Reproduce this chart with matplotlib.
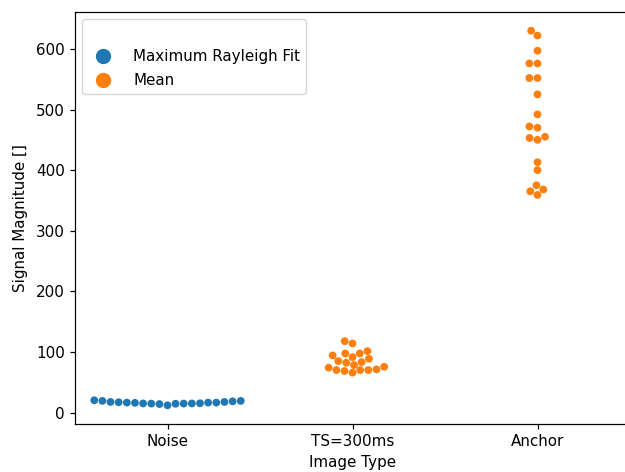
import matplotlib
matplotlib.use("Agg")
import matplotlib.pyplot as plt
import seaborn as sns
import pandas as pd
from matplotlib.lines import Line2D

categories = ["Noise", "TS=300ms", "Anchor"]
hue_labels = ["Maximum Rayleigh Fit", "Mean"]

noise_vals = [19.2, 19.2, 17.5, 16.4, 16.4, 15.3, 15.0, 14.5, 14.0, 12.0,
              14.8, 14.8, 15.0, 16.0, 16.4, 17.0, 17.5, 18.5, 20.3]
ts_vals = [117.8, 114.0, 101.4, 97.5, 97.5, 94.2, 91.5, 88.8, 84.9, 83.3,
           82.2, 78.4, 75.6, 74.0, 71.2, 70.1, 70.1, 70.1, 68.5, 65.8]
anchor_vals = [630, 622, 597, 576, 576, 552, 552, 525, 492, 472,
               470, 455, 453, 450, 413, 400, 375, 368, 365, 359]

rows = []
for v in noise_vals:
    rows.append(("Noise", v, hue_labels[0]))
for v in ts_vals:
    rows.append(("TS=300ms", v, hue_labels[1]))
for v in anchor_vals:
    rows.append(("Anchor", v, hue_labels[1]))
df = pd.DataFrame(rows, columns=["Image Type", "Signal Magnitude []", "Statistic"])

colors = ["#1f77b4", "#ff7f0e"]

s = 1.09
plt.rcParams.update({
    "font.size": 10 * s,
    "axes.linewidth": 0.8 * s,
    "xtick.major.size": 3.5 * s,
    "ytick.major.size": 3.5 * s,
    "xtick.major.width": 0.8 * s,
    "ytick.major.width": 0.8 * s,
})

fig = plt.figure(figsize=(6.25, 4.72), dpi=100)
ax = fig.add_axes([75/625, 48/472, 555/625, 412/472])
sns.swarmplot(data=df, x="Image Type", y="Signal Magnitude []", hue="Statistic",
              order=categories, hue_order=hue_labels, palette=colors, size=5.6, ax=ax)

leg = ax.get_legend()
if leg is not None:
    leg.remove()
handles = [Line2D([], [], marker="o", linestyle="none", markersize=10,
                  markerfacecolor=c, markeredgecolor=c) for c in colors]
ax.legend(handles, hue_labels, title=" ", loc="upper left", labelspacing=0.6,
          handletextpad=1.0, borderaxespad=0.45)

ax.set_xlabel("Image Type")
ax.set_ylabel("Signal Magnitude []", labelpad=6)
fig.savefig("out.png", dpi=100)
